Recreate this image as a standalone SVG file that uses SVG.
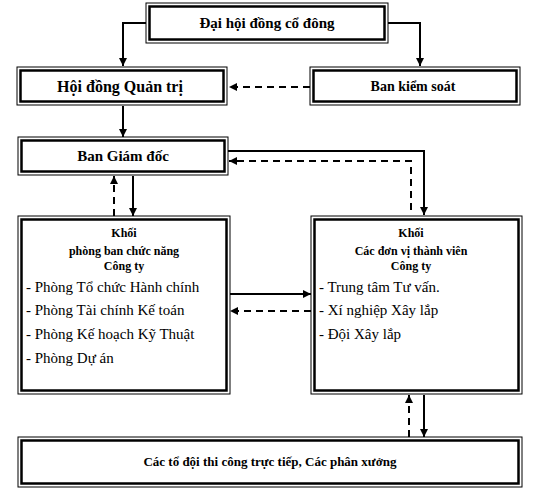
<svg xmlns="http://www.w3.org/2000/svg" width="534" height="499" viewBox="0 0 534 499">
<style>
.o{fill:#fff;stroke:#000;stroke-width:1}
.i{fill:none;stroke:#000;stroke-width:2.5}
.c{fill:none;stroke:#000;stroke-width:2}
.d{fill:none;stroke:#000;stroke-width:2;stroke-dasharray:7,5}
.h{font-family:"Liberation Serif",serif;font-weight:bold;text-anchor:middle;fill:#000}
.l{font-family:"Liberation Serif",serif;font-size:15px;fill:#000}
</style>
<defs>
<marker id="a" viewBox="0 0 8 8" refX="8" refY="4" markerWidth="8" markerHeight="8" markerUnits="userSpaceOnUse" orient="auto"><path d="M0,0L8,4L0,8z" fill="#000"/></marker>
</defs>
<rect width="534" height="499" fill="#fff"/>
<g id="connectors">
<path class="c" d="M146,23H123V66" marker-end="url(#a)"/>
<path class="c" d="M388,23H420V66" marker-end="url(#a)"/>
<path class="d" d="M310,87H229" marker-end="url(#a)"/>
<path class="c" d="M123,106V137" marker-end="url(#a)"/>
<path class="c" d="M133,176V216" marker-end="url(#a)"/>
<path class="d" d="M114,216V176" marker-end="url(#a)"/>
<path class="c" d="M228,151H424V215" marker-end="url(#a)"/>
<path class="d" d="M411,210V161H229" marker-end="url(#a)"/>
<path class="c" d="M230,294H311" marker-end="url(#a)"/>
<path class="d" d="M311,311H230" marker-end="url(#a)"/>
<path class="c" d="M424,395V437" marker-end="url(#a)"/>
<path class="d" d="M409,437V395" marker-end="url(#a)"/>
</g>
<g id="dhdcd">
<rect class="o" x="146" y="3" width="242" height="40"/>
<rect class="i" x="149.5" y="6.5" width="235" height="33"/>
<text class="h" x="267" y="28" font-size="15">Đại hội đồng cổ đông</text>
</g>
<g id="hdqt">
<rect class="o" x="17" y="67" width="210" height="38"/>
<rect class="i" x="20.5" y="70.5" width="203" height="31"/>
<text class="h" x="120" y="92" font-size="16">Hội đồng Quản trị</text>
</g>
<g id="bks">
<rect class="o" x="310" y="67" width="210" height="38"/>
<rect class="i" x="313.5" y="70.5" width="203" height="31"/>
<text class="h" x="413" y="91" font-size="14">Ban kiểm soát</text>
</g>
<g id="bgd">
<rect class="o" x="18" y="137" width="210" height="38"/>
<rect class="i" x="21.5" y="140.5" width="203" height="31"/>
<text class="h" x="123" y="161" font-size="15">Ban Giám đốc</text>
</g>
<g id="khoi-pb">
<rect class="o" x="18" y="216" width="212" height="178"/>
<rect class="i" x="21.5" y="219.5" width="205" height="171"/>
<text class="h" x="124" y="237" font-size="12">Khối</text>
<text class="h" x="124" y="255" font-size="12">phòng ban chức năng</text>
<text class="h" x="124" y="270" font-size="12">Công ty</text>
<text class="l" x="26" y="292">- Phòng Tổ chức Hành chính</text>
<text class="l" x="26" y="315">- Phòng Tài chính Kế toán</text>
<text class="l" x="26" y="339">- Phòng Kế hoạch Kỹ Thuật</text>
<text class="l" x="26" y="363">- Phòng Dự án</text>
</g>
<g id="khoi-dv">
<rect class="o" x="311" y="216" width="211" height="178"/>
<rect class="i" x="314.5" y="219.5" width="204" height="171"/>
<text class="h" x="411" y="237" font-size="12">Khối</text>
<text class="h" x="411" y="255" font-size="12">Các đơn vị thành viên</text>
<text class="h" x="411" y="270" font-size="12">Công ty</text>
<text class="l" x="319" y="292">- Trung tâm Tư vấn.</text>
<text class="l" x="319" y="315">- Xí nghiệp Xây lắp</text>
<text class="l" x="319" y="339">- Đội Xây lắp</text>
</g>
<g id="todoi">
<rect class="o" x="18" y="437" width="504" height="50"/>
<rect class="i" x="21.5" y="440.5" width="497" height="43"/>
<text class="h" x="270" y="466" font-size="13">Các tổ đội thi công trực tiếp, Các phân xưởng</text>
</g>
</svg>
